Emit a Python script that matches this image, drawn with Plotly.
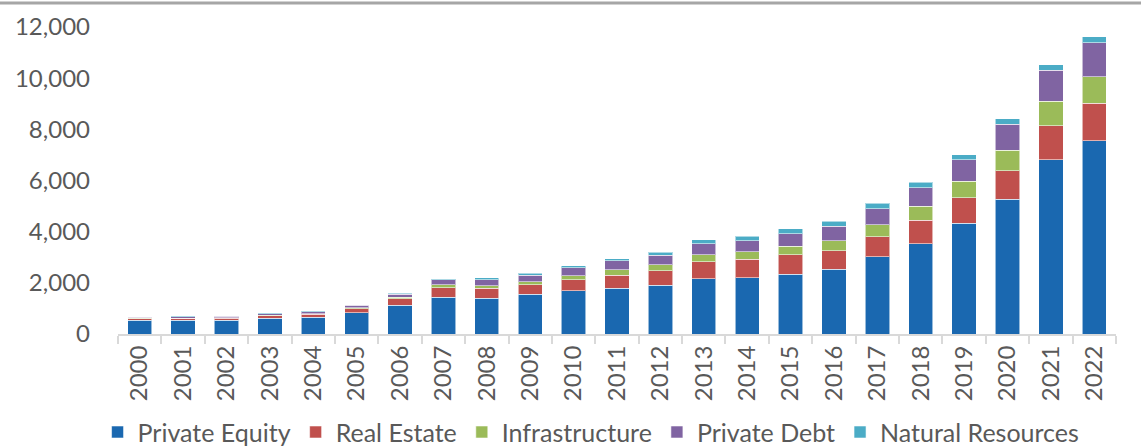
import plotly.graph_objects as go

years = [str(y) for y in range(2000, 2023)]
private_equity = [530, 530, 530, 610, 660, 840, 1115, 1440, 1405, 1545, 1700, 1780, 1910, 2155, 2205, 2340, 2535, 3025, 3520, 4330, 5260, 6820, 7550]
real_estate = [75, 80, 90, 110, 120, 155, 260, 375, 390, 380, 415, 520, 570, 665, 715, 750, 725, 780, 925, 1000, 1130, 1325, 1460]
infrastructure = [10, 15, 15, 15, 20, 40, 65, 105, 100, 115, 170, 220, 220, 275, 295, 340, 390, 470, 545, 650, 790, 950, 1040]
private_debt = [40, 50, 50, 50, 75, 80, 115, 195, 220, 260, 310, 340, 380, 440, 430, 490, 560, 625, 725, 830, 1025, 1220, 1330]
natural_resources = [10, 20, 20, 20, 25, 25, 40, 40, 80, 80, 80, 90, 115, 145, 170, 185, 205, 210, 210, 195, 210, 210, 230]

series = [
    ("Private Equity", private_equity, "#1a68b0"),
    ("Real Estate", real_estate, "#c0504d"),
    ("Infrastructure", infrastructure, "#9bbb59"),
    ("Private Debt", private_debt, "#8064a2"),
    ("Natural Resources", natural_resources, "#4bacc6"),
]

fig = go.Figure()
for name, vals, color in series:
    fig.add_trace(go.Bar(
        x=years, y=vals, name=name,
        marker=dict(color=color, line=dict(color="rgba(255,255,255,0.55)", width=1)),
    ))

font_family = "Lato, 'Open Sans', sans-serif"
fig.update_layout(
    barmode="stack",
    bargap=0.44,
    width=1141, height=448,
    margin=dict(l=118, r=25, t=27, b=114, autoexpand=False),
    paper_bgcolor="white", plot_bgcolor="white",
    font=dict(family=font_family, size=24, color="#595959"),
    showlegend=True,
    legend=dict(orientation="h", x=0.474, xanchor="center", y=-0.395, yanchor="bottom",
                font=dict(size=25, color="#595959"), traceorder="normal",
                itemwidth=30, tracegroupgap=0),
    xaxis=dict(
        type="category", tickangle=-90, showgrid=False, automargin=False,
        showline=True, linecolor="#d9d9d9", linewidth=2,
        ticks="outside", tickson="boundaries", ticklen=8, tickcolor="#d9d9d9", tickwidth=2,
        tickfont=dict(size=24, color="#595959"),
    ),
    yaxis=dict(
        range=[0, 12000], tickvals=[0, 2000, 4000, 6000, 8000, 10000, 12000],
        tickformat=",d", showgrid=False, showline=False, zeroline=False, automargin=False,
        ticks="", ticklabelstandoff=27,
        tickfont=dict(size=24, color="#595959"),
    ),
    shapes=[dict(type="line", xref="paper", yref="paper",
                 x0=-0.2, x1=1.1, y0=1.078, y1=1.078,
                 line=dict(color="#a6a6a6", width=3))],
)

fig.write_html("out.html",
               config={"displayModeBar": False},
               post_script="document.body.style.margin='0';document.body.style.overflow='hidden';")
